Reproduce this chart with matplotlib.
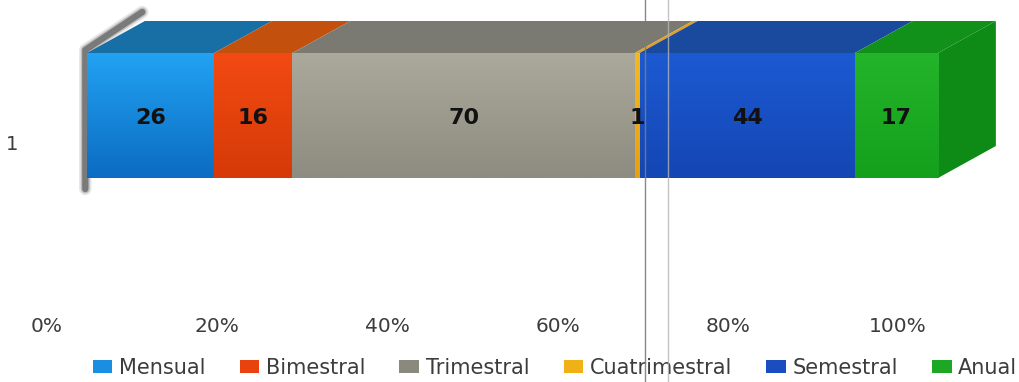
#!/usr/bin/env python3
"""Horizontal 100% stacked bar drawn as a 3D box, one segment per payment period."""

import matplotlib.pyplot as plt
import numpy as np
from matplotlib.colors import LinearSegmentedColormap
from matplotlib.lines import Line2D
from matplotlib.patches import Patch, Polygon

categories = ["Mensual", "Bimestral", "Trimestral", "Cuatrimestral", "Semestral", "Anual"]
values = [26, 16, 70, 1, 44, 17]
row_labels = ["1"]
tick_values = [0, 0.2, 0.4, 0.6, 0.8, 1.0]
tick_labels = ["0%", "20%", "40%", "60%", "80%", "100%"]

# front-face gradient (top, bottom), top face, legend swatch
FRONT = [("#22a2f2", "#0b6cc2"), ("#f24a12", "#d63a08"), ("#aaa99b", "#8d8c80"),
         ("#f4b822", "#e8a010"), ("#1c5ad2", "#1446b4"), ("#24b42a", "#14a01c")]
TOP = ["#176fa6", "#c4500e", "#7a7a72", "#e0a020", "#1a4a9e", "#11901a"]
SIDE = "#0e8a16"
SWATCH = ["#1a8ee0", "#e8420e", "#8a897e", "#f0b018", "#1a4ec0", "#1ca824"]

# box geometry (y in pixel-like units, x in fraction of total)
BAR_TOP, BAR_BOT = 53, 178
DEPTH_X, DEPTH_Y = 0.068, 32
SHIFT = 0.047   # front face sits right of the tick labels

W, H = 1019, 382
fig = plt.figure(figsize=(W / 100, H / 100), dpi=100)
ax = fig.add_axes([25 / W, 72 / H, (W - 25) / W, 310 / H])
ax.set_xlim((25 - 47) / 851, (W - 47) / 851)
ax.set_ylim(310, 0)
for s in ax.spines.values():
    s.set_visible(False)

fractions = np.array(values) / sum(values)
lefts = np.concatenate([[0], np.cumsum(fractions)[:-1]])
bar_y = (BAR_TOP + BAR_BOT) / 2
bar_h = BAR_BOT - BAR_TOP

# soft shadow along the left edge
shadow_x = [SHIFT - 0.002, SHIFT - 0.002, SHIFT + DEPTH_X - 0.003]
shadow_y = [BAR_BOT + 11, BAR_TOP - 3, BAR_TOP - DEPTH_Y - 9]
for lw, a in [(9, 0.15), (6.5, 0.3), (4.5, 0.7)]:
    ax.plot(shadow_x, shadow_y, color="#5e5e5e", lw=lw, alpha=a,
            solid_capstyle="round", solid_joinstyle="round", zorder=1)

grad = np.linspace(0, 1, 64).reshape(-1, 1)
for i, (left, frac) in enumerate(zip(lefts, fractions)):
    x0, x1 = left + SHIFT, left + frac + SHIFT
    # top face
    ax.add_patch(Polygon([(x0, BAR_TOP), (x1, BAR_TOP),
                          (x1 + DEPTH_X, BAR_TOP - DEPTH_Y), (x0 + DEPTH_X, BAR_TOP - DEPTH_Y)],
                         closed=True, facecolor=TOP[i], edgecolor="none", zorder=2 + i * 0.01))
    bars = ax.barh(bar_y, frac, left=x0, height=bar_h, color=FRONT[i][1],
                   edgecolor="none", zorder=3)
    cmap = LinearSegmentedColormap.from_list("g", list(FRONT[i]))
    im = ax.imshow(grad, cmap=cmap, aspect="auto", extent=(x0, x1, BAR_BOT, BAR_TOP),
                   zorder=3.1)
    im.set_clip_path(bars[0])
    ax.text((x0 + x1) / 2, bar_y + 2, str(values[i]), ha="center", va="center",
            fontsize=16, fontweight="bold", color="#111111", zorder=5)

# right face of the last segment
xe = 1 + SHIFT
ax.add_patch(Polygon([(xe, BAR_TOP), (xe + DEPTH_X, BAR_TOP - DEPTH_Y),
                      (xe + DEPTH_X, BAR_BOT - DEPTH_Y), (xe, BAR_BOT)],
                     closed=True, facecolor=SIDE, edgecolor="none", zorder=2))

ax.set_xticks(tick_values, tick_labels, fontsize=14.5, color="#3c3c3c")
ax.set_yticks([142], row_labels, fontsize=14, color="#3c3c3c")
ax.tick_params(length=0, pad=5)
ax.tick_params(axis="x", pad=5)

# two faint vertical streaks across the whole page
for px, c, a in [(645, "#7c7c7c", 0.9), (668, "#b4b4b4", 0.8)]:
    fig.add_artist(Line2D([px / W, px / W], [0, 1], transform=fig.transFigure,
                          color=c, lw=1.0, alpha=a, zorder=6))

handles = [Patch(facecolor=c, edgecolor="none") for c in SWATCH]
fig.legend(handles, categories, loc="center", bbox_to_anchor=(555 / W, 1 - 368 / H),
           ncol=6, frameon=False, fontsize=15, labelcolor="#3c3c3c",
           handlelength=0.95, handleheight=0.56, handletextpad=0.3, columnspacing=1.65,
           borderpad=0, borderaxespad=0)

fig.savefig("out.png", dpi=100)
